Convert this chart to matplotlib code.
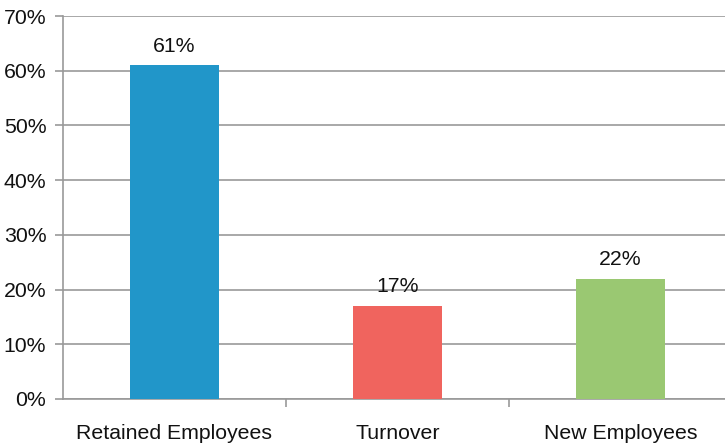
import matplotlib
matplotlib.use("Agg")
from matplotlib import pyplot as plt
from matplotlib.ticker import MultipleLocator, PercentFormatter, FixedLocator
from matplotlib.transforms import ScaledTranslation

categories = ["Retained Employees", "Turnover", "New Employees"]
values = [61, 17, 22]
colors = ["#2196C9", "#F0645E", "#9AC872"]

plt.rcParams["font.family"] = ["Liberation Sans", "DejaVu Sans"]

fig = plt.figure(figsize=(7.25, 4.46), dpi=100)
ax = fig.add_axes([63 / 725, 1 - 399 / 446, 669 / 725, 383 / 446])

x = range(len(categories))
bars = ax.bar(x, values, width=0.40, color=colors, zorder=3)
for b, v in zip(bars, values):
    ax.text(b.get_x() + b.get_width() / 2, v + 2.5, f"{v}%",
            ha="center", va="baseline", fontsize=15.3, color="#111111")

ax.set_xlim(-0.5, len(categories) - 0.5)
ax.set_ylim(0, 70)
ax.yaxis.set_major_locator(MultipleLocator(10))
ax.yaxis.set_major_formatter(PercentFormatter(decimals=0))
ax.grid(axis="y", color="#999999", linewidth=1.2, zorder=0)

ax.set_xticks(list(x))
ax.set_xticklabels(categories, fontsize=15.3, color="#111111")
# excel puts the category labels a touch right of the bar centres
shift = ScaledTranslation(6 / 100, 0, fig.dpi_scale_trans)
for lbl in ax.get_xticklabels():
    lbl.set_transform(lbl.get_transform() + shift)
ax.xaxis.set_minor_locator(FixedLocator([0.5, 1.5]))
ax.tick_params(axis="x", which="major", length=0, pad=18)
ax.tick_params(axis="x", which="minor", length=6, color="#999999", width=1.2)
ax.tick_params(axis="y", length=6, color="#999999", width=1.2, labelsize=15.3,
               labelcolor="#111111", pad=6)

for s in ["top", "right"]:
    ax.spines[s].set_visible(False)
for s in ["left", "bottom"]:
    ax.spines[s].set_color("#999999")
    ax.spines[s].set_linewidth(1.2)

fig.savefig("out.png", dpi=100)
